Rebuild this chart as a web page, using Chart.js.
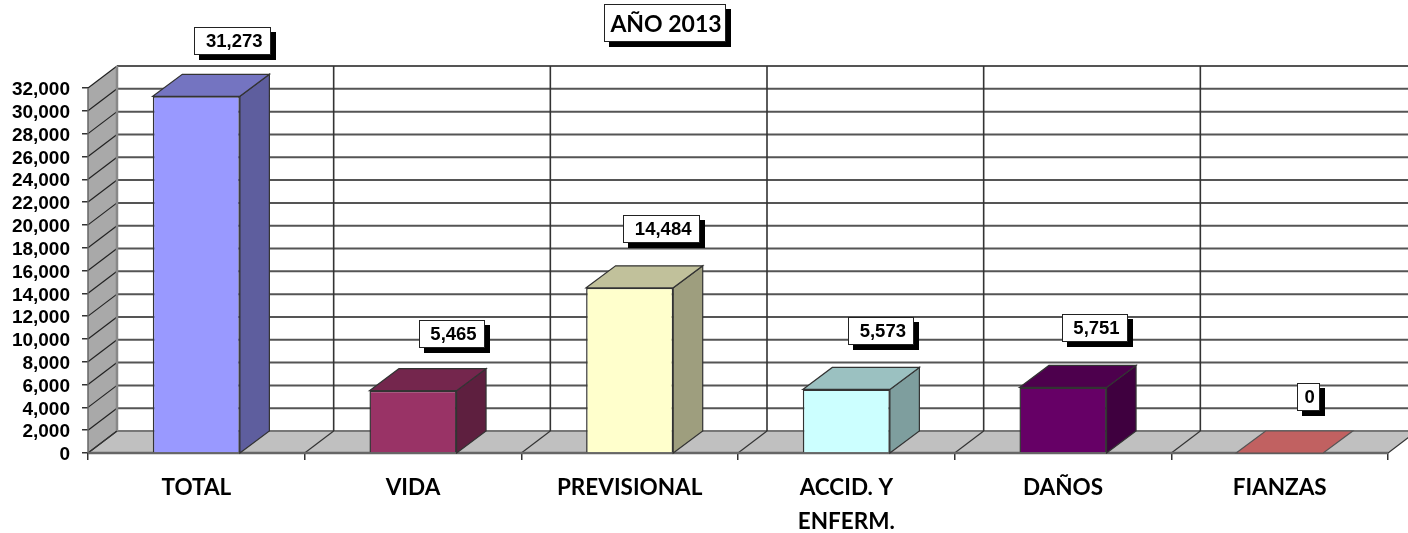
<!DOCTYPE html>
<html><head><meta charset="utf-8">
<style>html,body{margin:0;padding:0;background:#fff}canvas{display:block;filter:blur(.4px)}</style>
<script src="https://cdn.jsdelivr.net/npm/chart.js@4"></script>
</head><body><canvas id="c" width="1408" height="533"></canvas>
<script>
const titleText = 'AÑO 2013';
const categories = ['TOTAL','VIDA','PREVISIONAL',['ACCID. Y','ENFERM.'],'DAÑOS','FIANZAS'];
const values = [31273,5465,14484,5573,5751,0];
const barColors = ['#9999FF','#993366','#FFFFCC','#CCFFFF','#660066','#FF8080'];
const yMax = 32000, yStep = 2000;

const DX = 29, DY = 22, BDX = 29.5;
const labelNudge = [[36.5,-55],[39,-57],[32,-59],[35,-58.5],[32,-59],[28.5,-56]];
const fmt = v => v.toLocaleString('en-US');
function shade(hex,f){const n=parseInt(hex.slice(1),16);
  return `rgb(${((n>>16)&255)*f|0},${((n>>8)&255)*f|0},${(n&255)*f|0})`;}
function poly(ctx,pts,fill,stroke,lw){ctx.beginPath();pts.forEach((p,i)=>i?ctx.lineTo(p[0],p[1]):ctx.moveTo(p[0],p[1]));ctx.closePath();
  if(fill){ctx.fillStyle=fill;ctx.fill();}
  if(stroke){ctx.strokeStyle=stroke;ctx.lineWidth=lw||1;ctx.stroke();}}
function seg(ctx,x1,y1,x2,y2,c,w){ctx.beginPath();ctx.moveTo(x1,y1);ctx.lineTo(x2,y2);ctx.strokeStyle=c;ctx.lineWidth=w;ctx.stroke();}
function box(ctx,cx,cy,w,h,text,font,sh,tdy){
  const x=Math.round(cx-w/2),y=Math.round(cy-h/2);
  ctx.fillStyle='#000';ctx.fillRect(x+sh,y+sh,w,h);
  ctx.fillStyle='#fff';ctx.fillRect(x,y,w,h);
  ctx.strokeStyle='#222';ctx.lineWidth=1;ctx.strokeRect(x+.5,y+.5,w-1,h-1);
  ctx.fillStyle='#000';ctx.font=font;ctx.textAlign='center';ctx.textBaseline='middle';
  ctx.fillText(text,cx+1.5,cy+tdy);
}
const scene3d = {
  id:'scene3d',
  beforeDatasetsDraw(chart){
    const {ctx,chartArea:a,scales:{x,y}}=chart;
    const y0=y.getPixelForValue(0), yT=y.getPixelForValue(yMax), L=a.left, R=a.right;
    ctx.save();
    poly(ctx,[[L,y0],[L+DX,y0-DY],[L+DX,yT-DY],[L,yT]],'#A9A9A9');
    poly(ctx,[[L,y0],[L+DX,y0-DY],[R+DX,y0-DY],[R,y0]],'#C0C0C0');
    for(let v=0;v<=yMax;v+=yStep){
      const p=y.getPixelForValue(v);
      seg(ctx,L,p,L+DX,p-DY,'#222',1.2);
      seg(ctx,L+DX,p-DY,R+DX,p-DY,v===0?'#777':'#555',2);
    }
    seg(ctx,L+DX,yT-DY,R+DX,yT-DY,'#555',2);
    const w=(R-L)/categories.length;
    for(let i=0;i<=categories.length;i++){
      const fx=L+w*i;
      seg(ctx,fx+DX,yT-DY,fx+DX,y0-DY,i===0?'#888':'#333',i===0?2.5:1.6);
      seg(ctx,fx,y0,fx+DX,y0-DY,'#333',1.2);
    }
    seg(ctx,L,y0,L,yT,'#666',1.5);
    seg(ctx,L,y0,R,y0,'#666',2.5);
    ctx.restore();
  },
  afterDatasetsDraw(chart){
    const {ctx,scales:{y}}=chart, meta=chart.getDatasetMeta(0), y0=y.getPixelForValue(0);
    ctx.save();
    meta.data.forEach((b,i)=>{
      const hw=b.width/2,l=b.x-hw,r=b.x+hw,t=b.y,c=barColors[i],v=values[i];
      const edge=v?'#333':'#555';
      if(v){poly(ctx,[[r,t],[r+BDX,t-DY],[r+BDX,y0-DY],[r,y0]],shade(c,.62),edge,1.2);}
      poly(ctx,[[l,t],[l+BDX,t-DY],[r+BDX,t-DY],[r,t]],shade(c,.76),edge,1.2);
    });
    meta.data.forEach((b,i)=>{
      const [nx,ny]=labelNudge[i];
      const font='bold 18.5px "Liberation Sans"';
      ctx.font=font;
      const tw=ctx.measureText(fmt(values[i])).width;
      box(ctx,b.x+nx,b.y+ny,Math.round(tw+(values[i]?20:13)),28,fmt(values[i]),font,5,1);
    });
    box(ctx,664.5,23,122,38,titleText,'bold 23px Lato',5,2);
    ctx.restore();
  }
};
new Chart(document.getElementById('c'),{
  type:'bar',
  data:{labels:categories,datasets:[{data:values,backgroundColor:barColors,borderColor:'#333',
    borderWidth:values.map(v=>v?1.5:0),barPercentage:.402,categoryPercentage:1}]},
  plugins:[scene3d],
  options:{responsive:false,animation:false,devicePixelRatio:1,
    layout:{padding:{top:88,right:20,left:0,bottom:0}},
    plugins:{legend:{display:false},tooltip:{enabled:false},title:{display:false}},
    scales:{
      x:{afterFit(s){s.height=80;},
         grid:{display:true,drawOnChartArea:false,drawTicks:true,tickLength:7,color:'#333',lineWidth:1.5,offset:true},
         border:{display:false},
         ticks:{color:'#000',padding:11,autoSkip:false,maxRotation:0,font:{family:'Lato',weight:'bold',size:22.5,lineHeight:1.5}}},
      y:{min:0,max:yMax,afterFit(s){s.width=88;},
         grid:{drawOnChartArea:false,drawTicks:true,tickLength:6,color:'#333',lineWidth:1.5},
         border:{display:false},
         ticks:{stepSize:yStep,autoSkip:false,color:'#000',padding:12,labelOffset:2,callback:v=>fmt(v),font:{family:'Liberation Sans',weight:'bold',size:19}}}
    }}
});
</script></body></html>
